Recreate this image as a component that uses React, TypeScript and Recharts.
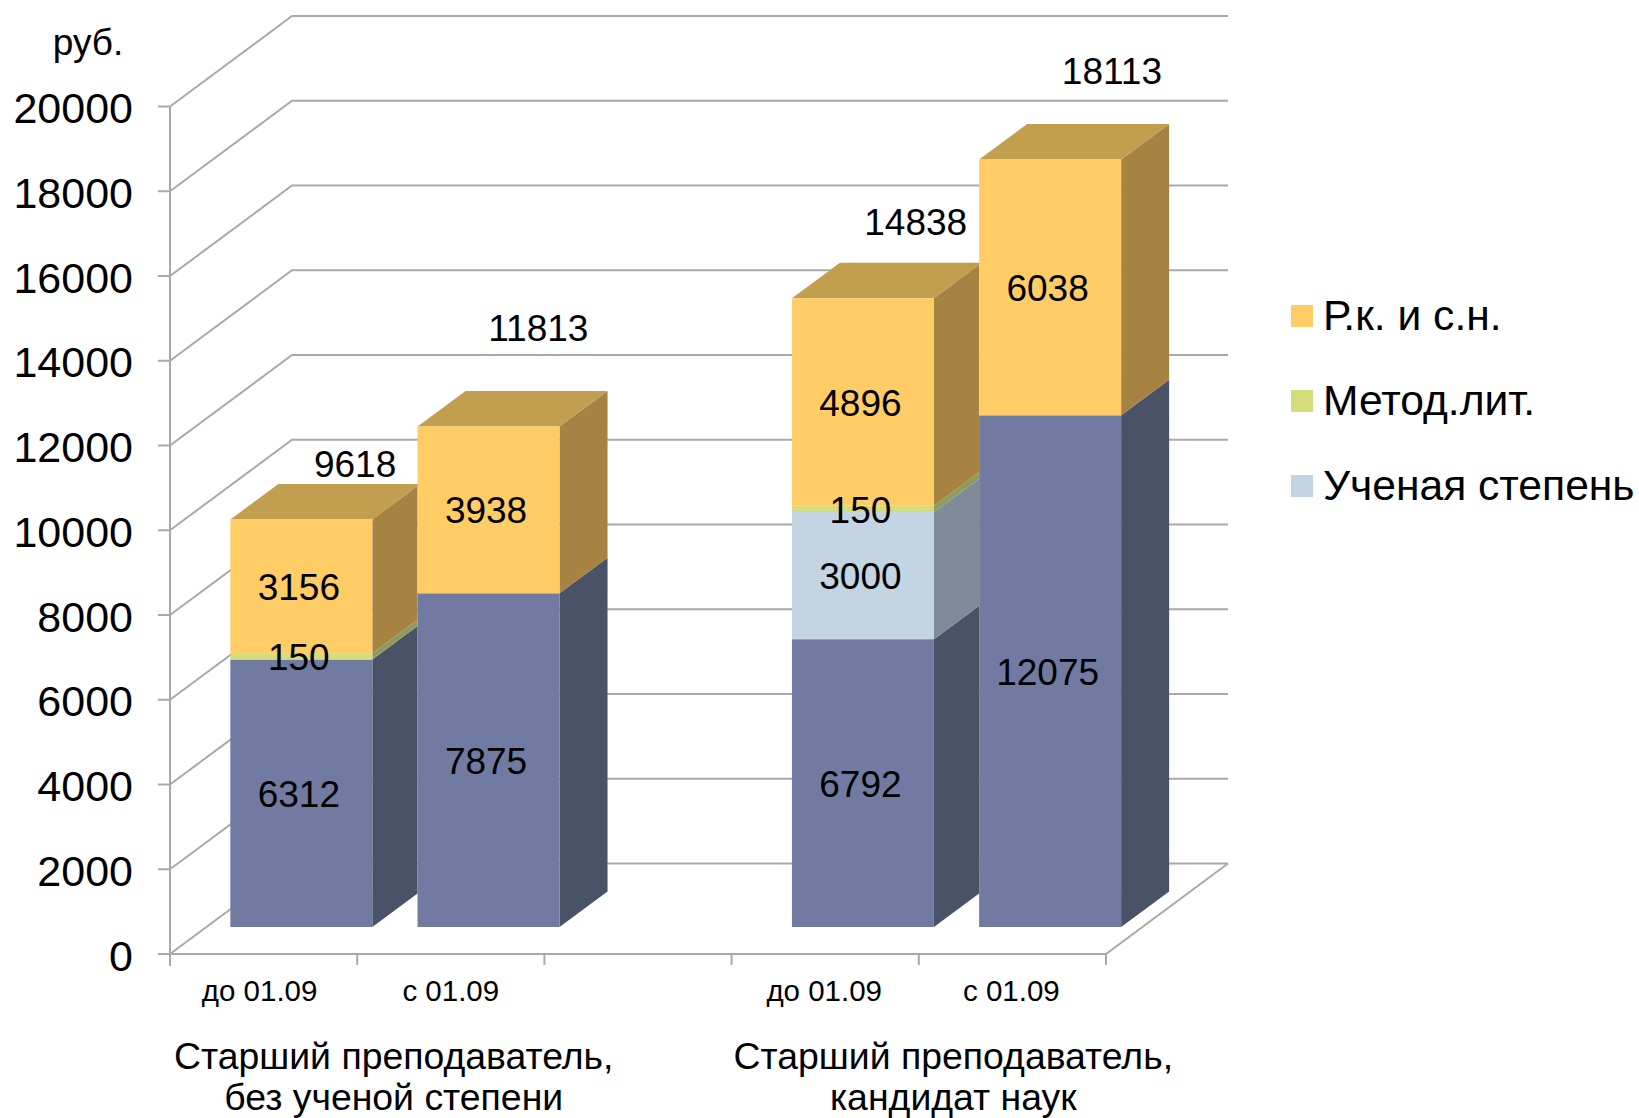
import { Bar, CartesianGrid, ComposedChart, LabelList, Legend, Line, XAxis, YAxis } from 'recharts';

const periods = ['до 01.09', 'с 01.09', '', 'до 01.09', 'с 01.09'];
const baseSalary = [6312, 7875, null, 6792, 12075];
const degree = [null, null, null, 3000, null];
const methodical = [150, null, null, 150, null];
const rkSn = [3156, 3938, null, 4896, 6038];
const totals = [9618, 11813, null, 14838, 18113];
const yTicks = [0, 2000, 4000, 6000, 8000, 10000, 12000, 14000, 16000, 18000, 20000];
const groupLabels: Record<number, string[]> = {
  1: ['Старший преподаватель,', 'без ученой степени'],
  4: ['Старший преподаватель,', 'кандидат наук'],
};
const legendNames = ['Р.к. и с.н.', 'Метод.лит.', 'Ученая степень'];

const data = periods.map((period, i) => ({
  period,
  baseSalary: baseSalary[i],
  degree: degree[i],
  methodical: methodical[i],
  rkSn: rkSn[i],
  total: totals[i],
}));

const WIDTH = 1639;
const HEIGHT = 1118;
const FONT = '"Liberation Sans", Arial, sans-serif';
const LINE = '#a9a9a9';

// bars stand on a plane in front of the walls, the axes sit further out
const PLOT_LEFT = 207.5;
const PLOT_TOP = 79.5;
const PLOT_W = 936;
const PLOT_H = 847.5;
const BAND = PLOT_W / periods.length;
const AXIS_DX = 37.5;
const AXIS_DY = 27;
const WALL_X = 170;
const WALL_BACK_X = 292;
const WALL_RIGHT_X = 1228;
const WALL_DY = 90.5;
const BAR_DX = 48;
const BAR_DY = 35.5;

// 3D look: front face + side face, top face only on the last series
function box(sideFill: string, topFill?: string) {
  return (props: any) => {
    const { x, y, width, height, fill, index } = props;
    if (!height) return null;
    const hasNeighbour = index < periods.length - 1 && periods[index + 1] !== '';
    const dx = hasNeighbour ? Math.min(BAR_DX, BAND - width) : BAR_DX;
    const dy = (dx * BAR_DY) / BAR_DX;
    const side = `${x + width},${y} ${x + width + dx},${y - dy} ${x + width + dx},${y + height - dy} ${x + width},${y + height}`;
    const top = `${x},${y} ${x + BAR_DX},${y - BAR_DY} ${x + width + BAR_DX},${y - BAR_DY} ${x + width},${y}`;
    return (
      <g>
        <polygon points={side} fill={sideFill} />
        {topFill && <polygon points={top} fill={topFill} />}
        <rect x={x} y={y} width={width} height={height} fill={fill} />
      </g>
    );
  };
}

function WallLine(props: any) {
  const { y1 } = props;
  const front = y1 + AXIS_DY;
  const back = front - WALL_DY;
  const isFloor = Math.abs(y1 - (PLOT_TOP + PLOT_H)) < 1;
  const isTop = Math.abs(y1 - PLOT_TOP) < 1;
  const common = { stroke: LINE, strokeWidth: 2, fill: 'none' };
  return (
    <g>
      <polyline points={`${WALL_X},${front} ${WALL_BACK_X},${back} ${WALL_RIGHT_X},${back}`} {...common} />
      {isTop && <line x1={WALL_X} y1={front} x2={WALL_X} y2={front + PLOT_H + 12} {...common} />}
      {isFloor && (
        <polyline
          points={`${WALL_X},${front} ${WALL_X + PLOT_W},${front} ${WALL_RIGHT_X},${back}`}
          {...common}
        />
      )}
      {isFloor &&
        periods.map((_, i) => (
          <line
            key={i}
            x1={WALL_X + (i + 1) * BAND}
            y1={front}
            x2={WALL_X + (i + 1) * BAND}
            y2={front + 11}
            {...common}
          />
        ))}
    </g>
  );
}

function ValueTick(props: any) {
  const { y, payload } = props;
  const yy = y + AXIS_DY;
  return (
    <g>
      <line x1={WALL_X - 12} y1={yy} x2={WALL_X} y2={yy} stroke={LINE} strokeWidth={2} />
      <text x={133} y={yy + 1.5} textAnchor="end" dominantBaseline="central" fontSize={43} fontFamily={FONT} fill="#000">
        {payload.value}
      </text>
      {payload.value === 20000 && (
        <text x={88} y={42.5} textAnchor="middle" dominantBaseline="central" fontSize={37} fontFamily={FONT} fill="#000">
          руб.
        </text>
      )}
    </g>
  );
}

// small per-label nudges, the source chart does not center these exactly
const periodShift = [-4, 0, 0, -1, -1];
const groupShift: Record<number, number> = { 1: -1, 4: -3 };

function PeriodTick(props: any) {
  const { x, index, payload } = props;
  const group = groupLabels[index];
  return (
    <g fontFamily={FONT} fill="#000">
      <text
        x={x - AXIS_DX + periodShift[index]}
        y={990}
        textAnchor="middle"
        dominantBaseline="central"
        fontSize={29.5}
      >
        {payload.value}
      </text>
      {group &&
        group.map((line, i) => (
          <text
            key={i}
            x={x - BAND / 2 + groupShift[index]}
            y={i === 0 ? 1056 : 1097}
            textAnchor="middle"
            dominantBaseline="central"
            fontSize={37.4}
          >
            {line}
          </text>
        ))}
    </g>
  );
}

const totalShift = [
  [54, -55],
  [50, -98],
  [0, 0],
  [53, -76],
  [62, -88],
];

function TotalLabel(props: any) {
  const { x, y, value, index } = props;
  if (value == null) return null;
  return (
    <text
      x={x + totalShift[index][0]}
      y={y + totalShift[index][1]}
      textAnchor="middle"
      dominantBaseline="central"
      fontSize={37}
      fontFamily={FONT}
      fill="#000"
    >
      {value}
    </text>
  );
}

function LegendBox(props: any) {
  const items = props.payload || [];
  return (
    <div style={{ fontFamily: FONT, fontSize: 42.6, color: '#000' }}>
      {legendNames.map((name) => {
        const item = items.find((it: any) => it.value === name);
        return (
          <div key={name} style={{ display: 'flex', alignItems: 'center', height: 85, whiteSpace: 'nowrap' }}>
            <span style={{ width: 22, height: 22, background: item ? item.color : '#ccc', marginRight: 10 }} />
            {name}
          </div>
        );
      })}
    </div>
  );
}

const labelStyle = { fontSize: 37, fontFamily: FONT, fill: '#000' };
const labelNudge = { dx: -2.5, dy: 0.5 };

export default function App() {
  return (
    <div style={{ position: 'absolute', left: 0, top: 0, width: WIDTH, height: HEIGHT, background: '#fff' }}>
      <ComposedChart
        width={WIDTH}
        height={HEIGHT}
        data={data}
        barCategoryGap="12.2%"
        margin={{
          left: PLOT_LEFT - 1,
          top: PLOT_TOP,
          right: WIDTH - PLOT_LEFT - PLOT_W,
          bottom: HEIGHT - PLOT_TOP - PLOT_H - 1,
        }}
      >
        <CartesianGrid vertical={false} horizontal={WallLine} horizontalValues={yTicks} />
        <XAxis dataKey="period" height={1} interval={0} axisLine={false} tickLine={false} tick={PeriodTick} />
        <YAxis
          width={1}
          domain={[0, 20000]}
          ticks={yTicks}
          interval={0}
          axisLine={false}
          tickLine={false}
          tick={ValueTick}
        />
        <Legend
          layout="vertical"
          align="center"
          verticalAlign="middle"
          content={LegendBox}
          wrapperStyle={{ left: 1291, top: 273, width: 348, height: 255, margin: 0 }}
        />
        <Bar
          dataKey="baseSalary"
          name="Базовый оклад"
          stackId="a"
          fill="#717ba1"
          legendType="none"
          shape={box('#4a5268')}
          isAnimationActive={false}
        >
          <LabelList dataKey="baseSalary" position="center" style={labelStyle} {...labelNudge} />
        </Bar>
        <Bar
          dataKey="degree"
          name="Ученая степень"
          stackId="a"
          fill="#c3d4e3"
          shape={box('#808b99')}
          isAnimationActive={false}
        >
          <LabelList dataKey="degree" position="center" style={labelStyle} {...labelNudge} />
        </Bar>
        <Bar
          dataKey="methodical"
          name="Метод.лит."
          stackId="a"
          fill="#d4dc7b"
          shape={box('#8d9c5c')}
          isAnimationActive={false}
        >
          <LabelList dataKey="methodical" position="center" style={labelStyle} {...labelNudge} />
        </Bar>
        <Bar
          dataKey="rkSn"
          name="Р.к. и с.н."
          stackId="a"
          fill="#ffcc66"
          shape={box('#a68342', '#c29e4f')}
          isAnimationActive={false}
        >
          <LabelList dataKey="rkSn" position="center" style={labelStyle} {...labelNudge} />
        </Bar>
        <Line
          dataKey="total"
          stroke="none"
          dot={false}
          activeDot={false}
          legendType="none"
          label={TotalLabel}
          isAnimationActive={false}
        />
      </ComposedChart>
    </div>
  );
}
